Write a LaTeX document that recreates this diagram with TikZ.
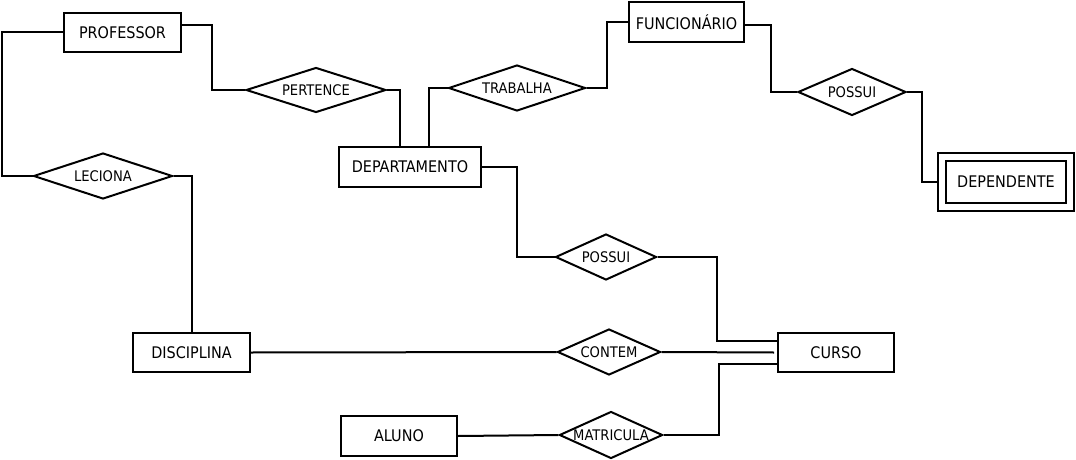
\documentclass[tikz,border=0pt]{standalone}
\usepackage{fontspec}
\setmainfont{DejaVu Sans Condensed}
\usetikzlibrary{shapes.geometric}

\begin{document}
\begin{tikzpicture}[x=1pt,y=-1pt,line width=2pt]
% estilos de entidades, relacionamentos e linhas
\tikzstyle{entidade} = [draw,rectangle,inner sep=0pt,font=\fontsize{16}{18}\selectfont]
\tikzstyle{fraca} = [entidade,double,double distance=6pt]
\tikzstyle{relac} = [draw,diamond,aspect=2.5,inner sep=0pt,font=\fontsize{14.6}{16}\selectfont]
\tikzstyle{liga} = [line join=miter]
% area do desenho
\useasboundingbox (0,0) rectangle (1076,460);
% desenhar entidades
\begin{scope}
\node[entidade,minimum width=117pt,minimum height=39pt] (professor) at (122.5,32.5) {PROFESSOR};
\node[entidade,minimum width=142pt,minimum height=40pt] (departamento) at (410,167) {DEPARTAMENTO};
\node[entidade,minimum width=115pt,minimum height=40pt] (funcionario) at (686.5,22) {FUNCIONÁRIO};
\node[fraca,minimum width=128pt,minimum height=50pt] (dependente) at (1006,182) {DEPENDENTE};
\node[entidade,minimum width=117pt,minimum height=39pt] (disciplina) at (191.5,352.5) {DISCIPLINA};
\node[entidade,minimum width=116pt,minimum height=39pt] (curso) at (836,352.5) {CURSO};
\node[entidade,minimum width=116pt,minimum height=40pt] (aluno) at (399,436) {ALUNO};
\end{scope}
% desenhar relacionamentos
\begin{scope}
\node[relac,minimum width=139pt,minimum height=46pt] (leciona) at (103,176) {LECIONA};
\node[relac,minimum width=140pt,minimum height=45pt] (pertence) at (316,90) {PERTENCE};
\node[relac,minimum width=137pt,minimum height=46pt] (trabalha) at (517,88) {TRABALHA};
\node[relac,minimum width=108pt,minimum height=47pt] (possuifun) at (852,92) {POSSUI};
\node[relac,minimum width=101pt,minimum height=46pt] (possuicur) at (606,257) {POSSUI};
\node[relac,minimum width=103pt,minimum height=46pt] (contem) at (609,352) {CONTEM};
\node[relac,minimum width=103pt,minimum height=47pt] (matricula) at (611,435) {MATRICULA};
\end{scope}
% desenhar ligacoes
\begin{scope}[liga]
\draw (professor.west) -- ++(-61,0) |- (leciona.west);
\draw (leciona.east) -| (disciplina.north);
\draw ([yshift=7pt]professor.east) -- ++(30,0) |- (pertence.west);
\draw (pertence.east) -| ([xshift=-10pt]departamento.north);
\draw ([xshift=19pt]departamento.north) |- (trabalha.west);
\draw (trabalha.east) -- ++(20,0) |- (funcionario.west);
\draw ([yshift=-3pt]funcionario.east) -- ++(26,0) |- (possuifun.west);
\draw[shorten >=4pt] (possuifun.east) -- ++(15,0) |- (dependente.west);
\draw (departamento.east) -- ++(35,0) |- (possuicur.west);
\draw (possuicur.east) -- ++(59,0) |- ([yshift=12pt]curso.west);
\draw (contem.east) -- ([xshift=-3pt]curso.west);
\draw (matricula.east) -- ++(55,0) |- ([yshift=-11.5pt]curso.west);
\draw (disciplina.east) -- (contem.west);
\draw (aluno.east) -- (matricula.west);
\end{scope}
\end{tikzpicture}
\end{document}
